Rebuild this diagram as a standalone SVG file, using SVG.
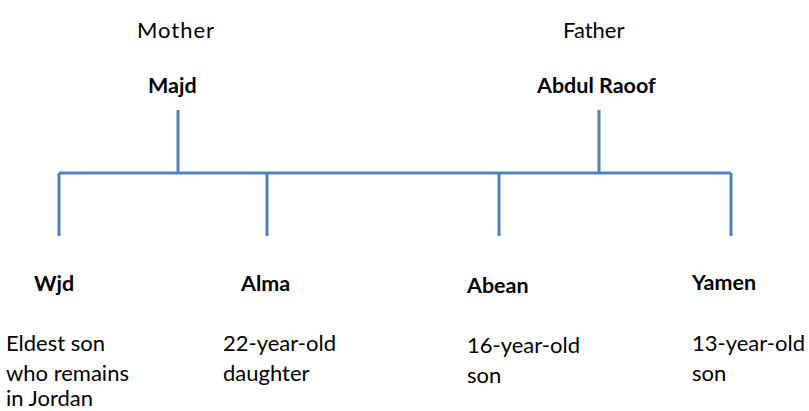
<svg xmlns="http://www.w3.org/2000/svg" width="809" height="411" viewBox="0 0 809 411">
<style>
text{font-family:Lato,"Liberation Sans",sans-serif;font-size:22px;fill:#000}
.b{font-weight:bold;font-size:21.5px}
.l{stroke:#4f81bd;stroke-width:3;fill:none}
</style>
<rect width="809" height="411" fill="#fff"/>
<g id="connectors">
<path class="l" d="M59 173H731M178 110V173M599 110V173M59 173V236M267 173V236M499 173V236M731 173V236"/>
</g>
<g id="mother"><text x="137" y="38" textLength="77">Mother</text><text class="b" x="148" y="93">Majd</text></g>
<g id="father"><text x="563" y="38">Father</text><text class="b" x="537" y="93">Abdul Raoof</text></g>
<g id="wjd"><text class="b" x="34" y="291">Wjd</text><text x="6" y="351">Eldest son</text><text x="6" y="381">who remains</text><text x="6" y="406">in Jordan</text></g>
<g id="alma"><text class="b" x="241" y="291">Alma</text><text x="223" y="351">22-year-old</text><text x="223" y="381">daughter</text></g>
<g id="abean"><text class="b" x="467" y="293">Abean</text><text x="467" y="353">16-year-old</text><text x="467" y="383">son</text></g>
<g id="yamen"><text class="b" x="692" y="290">Yamen</text><text x="692" y="351">13-year-old</text><text x="692" y="381">son</text></g>
</svg>
